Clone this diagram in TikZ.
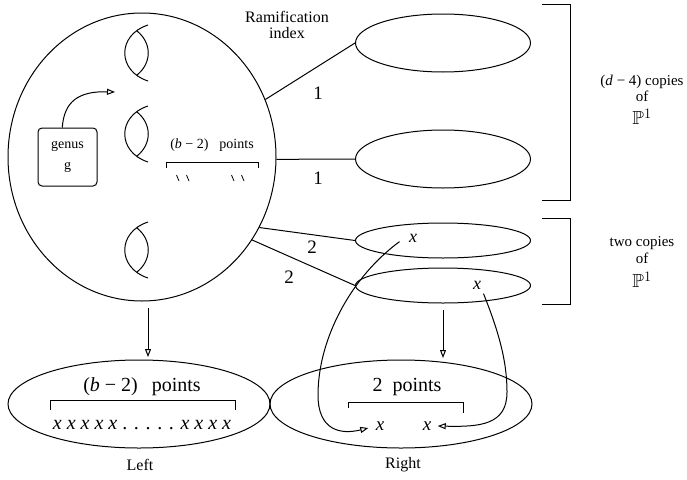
\documentclass[tikz,border=0pt]{standalone}
\usepackage{fontspec}
\setmainfont{Liberation Serif}
\usepackage{amssymb}
\usetikzlibrary{shapes.geometric,arrows.meta,calc}
\begin{document}
\begin{tikzpicture}[x=1pt,y=-1pt,line width=1pt,
  oval/.style={draw,ellipse,inner sep=0pt},
  opentip/.style={-{Triangle[open,length=8pt,width=6pt]}},
  lbl/.style={inner sep=0pt,font=\fontsize{#1}{#1}\selectfont},
  lbl/.default=16,
  lens/.pic={
    \draw (10,-28) .. controls (-21,-18) and (-21,18) .. (10,28);
    \draw (-1,-22) .. controls (14,-10) and (14,10) .. (-1,22);
  }]
\useasboundingbox (0,0) rectangle (687,479);

% the curve of genus g with its handles
\node[oval,minimum width=268pt,minimum height=288pt] (C) at (142,157) {};
\pic at (138,53) {lens};
\pic at (138,134) {lens};
\pic at (138,250) {lens};

\node[draw,rounded corners=4pt,minimum width=59pt,minimum height=58pt,
      align=center,font=\fontsize{14}{21}\selectfont] (G) at (67.5,157) {genus\\g};
\coordinate (gtip) at (115,92);
\draw[opentip] (G.100) .. controls (64,102) and (78,91) .. (gtip);

\node[lbl=14] (inpts) at (212,145) {(\textit{b} − 2)\hspace{11pt}points};
\draw (166,168) -- (166,162) -- (258,162) -- (258,168);
\foreach \u in {178,188,233,243}
  \draw[line width=0.8pt] (\u-1.5,175) -- (\u+1,181);

% the rational components
\node[oval,minimum width=175pt,minimum height=58pt] (E1) at (443,43) {};
\node[oval,minimum width=175pt,minimum height=58pt] (E2) at (443,159) {};
\node[oval,minimum width=175pt,minimum height=35pt] (E3) at (443,240.5) {};
\node[oval,minimum width=175pt,minimum height=35pt] (E4) at (443,285.5) {};

\draw (C.25) -- (E1.west);
\draw (C.-1) -- (E2.west);
\draw (C.-31.7) -- (E3.west);
\draw (C.-37) -- (E4.west);

\node[lbl=16,align=center,font=\fontsize{16}{16}\selectfont] (ram) at (287,25) {Ramification\\index};
\node[lbl=19] (i1) at (318,93) {1};
\node[lbl=19] (i2) at (318,178) {1};
\node[lbl=19] (i3) at (312,247) {2};
\node[lbl=19] (i4) at (289,277) {2};

\node[lbl=18] (x3) at (413,238) {\textit{x}};
\node[lbl=18] (x4) at (477,285) {\textit{x}};

% brackets and their labels
\draw (542,4) -- (570,4) -- (570,200) -- (542,200);
\draw (542,218) -- (570,218) -- (570,304) -- (542,304);
\node[lbl=15] (c1) at (642,82) {(\textit{d} − 4) copies};
\node[lbl=15] (o1) at (642,96) {of};
\node[lbl=19] (p1) at (642,117) {$\mathbb{P}^1$};
\node[lbl=15] (c2) at (642,243) {two copies};
\node[lbl=15] (o2) at (642,258) {of};
\node[lbl=19] (p2) at (642,280) {$\mathbb{P}^1$};

% the two target curves
\node[oval,minimum width=262pt,minimum height=88pt] (L) at (139,404) {};
\node[oval,minimum width=262pt,minimum height=88pt] (R) at (401,404) {};

\coordinate (d1) at (148,308);
\coordinate (d2) at (148,357);
\draw[opentip] (d1) -- (d2);
\coordinate (d3) at (443,310);
\coordinate (d4) at (443,358);
\draw[opentip] (d3) -- (d4);

\node[lbl=20] (lp) at (142,387) {(\textit{b} − 2)\hspace{14pt}points};
\draw (50,410) -- (50,400) -- (235,400) -- (235,410);
\node[lbl=20] (lx) at (142,425) {\textit{x x x x x} . . . . . \textit{x x x x}};

\node[lbl=20] (rp) at (407,387) {2\hspace{10pt}points};
\draw (348,408) -- (348,402) -- (463,402) -- (463,413);
\node[lbl=19] (xb1) at (380,426) {\textit{x}};
\node[lbl=19] (xb2) at (427,426) {\textit{x}};

\draw[opentip] ([xshift=-9pt,yshift=1pt]x3.south west) .. controls (350,278) and (318,340) .. (318,395)
  .. controls (318,430) and (340,435) .. ([xshift=-7pt,yshift=-2pt]xb1.west);
\draw[opentip] ([xshift=2pt,yshift=-4pt]x4.south east) .. controls (498,330) and (507,360) .. (507,392)
  .. controls (507,425) and (480,427) .. ([xshift=6pt]xb2.east);

\node[lbl=16] (lt) at (140,465) {Left};
\node[lbl=16] (rt) at (403,465) {Right};
\end{tikzpicture}
\end{document}
